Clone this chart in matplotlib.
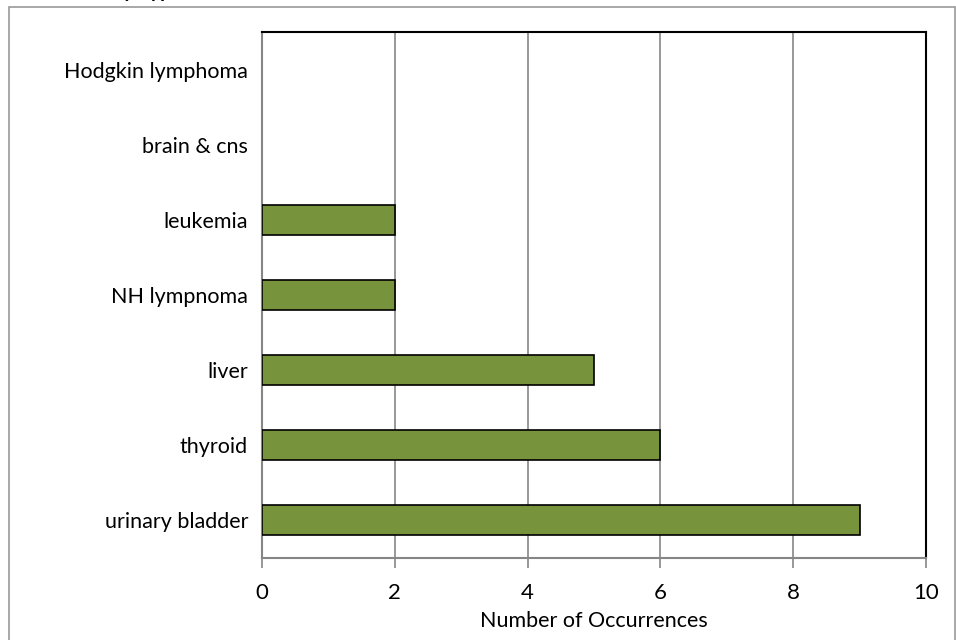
import matplotlib.pyplot as plt
from matplotlib.patches import Rectangle

# cancer types, bottom to top as drawn
categories = ['urinary bladder', 'thyroid', 'liver', 'NH lympnoma',
              'leukemia', 'brain & cns', 'Hodgkin lymphoma']
counts = [9, 6, 5, 2, 2, 0, 0]
xticks = [0, 2, 4, 6, 8, 10]

plt.rcParams['font.family'] = ['Lato', 'DejaVu Sans']

fig = plt.figure(figsize=(9.56, 6.4), dpi=100)
ax = fig.add_axes([262/956, 1 - 558/640, (926-262)/956, (558-32)/640])

y = range(len(categories))
# no outline for the empty categories
edges = ['black' if c > 0 else 'none' for c in counts]
ax.barh(y, counts, height=0.4, color='#77933C', edgecolor=edges, linewidth=1.2, zorder=3)

ax.set_xlim(0, 10)
ax.set_ylim(-0.5, len(categories) - 0.5)
ax.set_xticks(xticks)
ax.set_yticks(list(y))
ax.set_yticklabels(categories)
ax.tick_params(axis='y', length=0, pad=10, labelsize=15.5)
ax.tick_params(axis='x', direction='out', length=7, color='#868686', width=1.2, pad=11, labelsize=16)
ax.grid(axis='x', color='#868686', linewidth=1.2, zorder=0)
ax.set_xlabel('Number of Occurrences', fontsize=15.5, labelpad=6)

ax.spines['left'].set_color('#868686')
ax.spines['bottom'].set_color('#868686')
ax.spines['top'].set_color('black')
ax.spines['right'].set_color('black')
for s in ax.spines.values():
    s.set_linewidth(1.5)

# outer chart border
fig.patches.append(Rectangle((9/956, -0.01), (955-9)/956, 1 - 7/640 + 0.01,
                             transform=fig.transFigure, fill=False,
                             edgecolor='#9a9a9a', linewidth=1.2))

# title cut off at the top edge of the image
fig.text(0.04, 1.0 + 3/640, 'Cancers by Type of Occurrence, 1990-2010', fontsize=15,
         fontweight='bold', fontstyle='italic', va='baseline', ha='left')

fig.savefig('out.png', dpi=100)
